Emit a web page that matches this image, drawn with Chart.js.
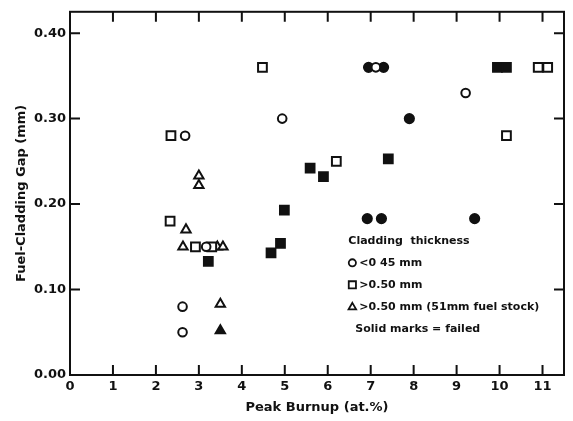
<!DOCTYPE html>
<html>
<head>
<meta charset="utf-8">
<script src="https://cdn.jsdelivr.net/npm/chart.js@4/dist/chart.umd.min.js"></script>
<style>
  html, body { margin: 0; padding: 0; background: #fff; }
  #wrap { width: 573px; height: 421px; }
</style>
</head>
<body>
<div id="wrap"><canvas id="chart1"></canvas></div>
<script>
// peak burnup (at.%) vs fuel-cladding gap (mm)
const openCircles = [[2.62, 0.08], [2.62, 0.05], [2.68, 0.28], [3.17, 0.15], [4.94, 0.30], [7.12, 0.36], [9.21, 0.33]];
const openSquares = [[2.33, 0.18], [2.35, 0.28], [2.92, 0.15], [3.3, 0.15], [4.48, 0.36], [6.2, 0.25], [10.16, 0.28], [10.9, 0.36], [11.12, 0.36]];
const openTriangles = [[2.7, 0.17], [2.63, 0.15], [3.0, 0.233], [3.0, 0.222], [3.43, 0.15], [3.56, 0.15], [3.5, 0.083]];
const solidCircles = [[6.95, 0.36], [7.3, 0.36], [7.9, 0.30], [6.92, 0.183], [7.25, 0.183], [9.42, 0.183]];
const solidSquares = [[3.22, 0.133], [4.68, 0.143], [4.9, 0.154], [4.99, 0.193], [5.59, 0.242], [5.9, 0.232], [7.41, 0.253], [9.95, 0.36], [10.16, 0.36]];
const solidTriangles = [[3.5, 0.052]];

const xTicks = [0, 1, 2, 3, 4, 5, 6, 7, 8, 9, 10, 11];
const yTicks = [0, 0.1, 0.2, 0.3, 0.4];
const legendLines = ['Cladding  thickness', '<0 45 mm', '>0.50 mm', '>0.50 mm (51mm fuel stock)', 'Solid marks = failed'];

const ink = '#111';
const fontFam = '"DejaVu Sans", Verdana, sans-serif';

const toPts = arr => arr.map(p => ({ x: p[0], y: p[1] }));

function series(label, arr, style, filled, radius) {
    return {
        label: label,
        data: toPts(arr),
        pointStyle: style,
        pointRadius: radius,
        pointHoverRadius: radius,
        borderWidth: 2,
        borderColor: ink,
        backgroundColor: filled ? ink : '#fff'
    };
}

function marker(ctx, style, x, y, r) {
    ctx.beginPath();
    if (style === 'circle') {
        ctx.arc(x, y, r, 0, Math.PI * 2);
    } else if (style === 'rect') {
        ctx.rect(x - r, y - r, 2 * r, 2 * r);
    } else {
        ctx.moveTo(x, y - r * 1.1);
        ctx.lineTo(x + r * 1.05, y + r * 0.7);
        ctx.lineTo(x - r * 1.05, y + r * 0.7);
        ctx.closePath();
    }
    ctx.stroke();
}

const frame = {
    id: 'frame',
    afterDraw(chart) {
        const ctx = chart.ctx;
        const a = chart.chartArea;
        const sx = chart.scales.x, sy = chart.scales.y;
        ctx.save();
        ctx.strokeStyle = ink;
        ctx.lineWidth = 2;
        ctx.strokeRect(a.left, a.top, a.right - a.left, a.bottom - a.top);
        // inward ticks on all four sides
        ctx.beginPath();
        xTicks.forEach(v => {
            if (v === 0) return;
            const px = sx.getPixelForValue(v);
            ctx.moveTo(px, a.bottom); ctx.lineTo(px, a.bottom - 10);
            ctx.moveTo(px, a.top); ctx.lineTo(px, a.top + 10);
        });
        yTicks.forEach(v => {
            if (v === 0) return;
            const py = sy.getPixelForValue(v);
            ctx.moveTo(a.left, py); ctx.lineTo(a.left + 10, py);
            ctx.moveTo(a.right, py); ctx.lineTo(a.right - 10, py);
        });
        ctx.stroke();

        // legend text block
        const lx = sx.getPixelForValue(6.48);
        let ly = sy.getPixelForValue(0.157);
        ctx.fillStyle = ink;
        ctx.font = 'bold 11px ' + fontFam;
        ctx.textBaseline = 'middle';
        ctx.lineWidth = 1.8;
        const styles = [null, 'circle', 'rect', 'triangle', null];
        legendLines.forEach((t, i) => {
            if (styles[i]) {
                marker(ctx, styles[i], lx + 4, ly, 3.6);
                ctx.fillText(t, lx + 11, ly);
            } else {
                ctx.fillText(t, lx + (i === 4 ? 7 : 0), ly);
            }
            ly += 22;
        });
        ctx.restore();
    }
};

const tickFont = { family: fontFam, size: 13, weight: 'bold' };
const titleFont = { family: fontFam, size: 13, weight: 'bold' };

const chart1 = new Chart(document.getElementById('chart1'), {
    type: 'scatter',
    data: {
        datasets: [
            series('open circle', openCircles, 'circle', false, 4.3),
            series('open square', openSquares, 'rect', false, 6.2),
            series('open triangle', openTriangles, 'triangle', false, 5.4),
            series('solid circle', solidCircles, 'circle', true, 4.6),
            series('solid square', solidSquares, 'rect', true, 6.2),
            series('solid triangle', solidTriangles, 'triangle', true, 5.4)
        ]
    },
    options: {
        responsive: true,
        maintainAspectRatio: false,
        animation: false,
        layout: { padding: { top: 6, right: 9, left: 0, bottom: 0 } },
        plugins: {
            legend: { display: false },
            tooltip: { enabled: false }
        },
        scales: {
            x: {
                type: 'linear',
                min: 0,
                max: 11.5,
                afterBuildTicks: s => { s.ticks = xTicks.map(v => ({ value: v })); },
                afterFit: s => { s.height = 46; },
                grid: { display: false, drawTicks: false },
                border: { display: false },
                ticks: { color: ink, font: tickFont, padding: 4, maxRotation: 0, autoSkip: false },
                title: { display: true, text: 'Peak Burnup (at.%)', color: ink, font: titleFont, padding: { top: 0, bottom: 6 } }
            },
            y: {
                type: 'linear',
                min: 0,
                max: 0.425,
                afterBuildTicks: s => { s.ticks = yTicks.map(v => ({ value: v })); },
                afterFit: s => { s.width = 70; },
                grid: { display: false, drawTicks: false },
                border: { display: false },
                ticks: { color: ink, font: tickFont, padding: 4, callback: v => v.toFixed(2) },
                title: { display: true, text: 'Fuel-Cladding Gap (mm)', color: ink, font: titleFont, padding: { top: 14, bottom: 0 } }
            }
        }
    },
    plugins: [frame]
});
</script>
</body>
</html>
